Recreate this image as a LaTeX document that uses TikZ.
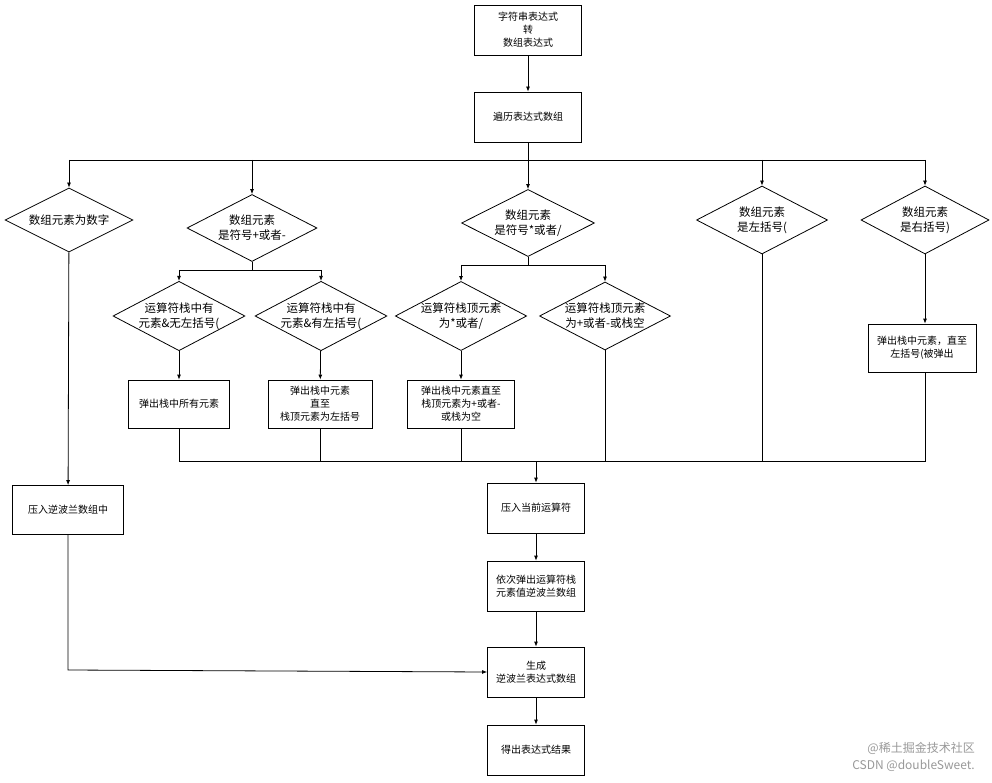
\documentclass[tikz,border=0pt]{standalone}
\usepackage{fontspec}
\setmainfont{Noto Sans CJK SC}
\usetikzlibrary{shapes.geometric,arrows.meta}
\begin{document}
\begin{tikzpicture}[x=1pt,y=-1pt,
  every node/.style={font=\fontsize{10}{13}\selectfont,align=center,inner sep=0pt},
  box/.style={draw,thick,rectangle},
  dia/.style={draw,thick,diamond,aspect=1.9,font=\fontsize{11.5}{15}\selectfont},
  ln/.style={thick},
  ar/.style={thick,-{Latex[length=5pt,width=4pt]}}]
\fill[white] (0,0) rectangle (992,783);
\useasboundingbox (0,0) rectangle (992,783);
\node[box,minimum width=107pt,minimum height=50pt] (top) at (528,30) {字符串表达式\\转\\数组表达式};
\node[box,minimum width=107pt,minimum height=50pt] (trav) at (528,117) {遍历表达式数组};
\node[dia,minimum width=128pt,minimum height=64pt] (d1) at (69,220) {数组元素为数字};
\node[dia,minimum width=130pt,minimum height=67pt] (d2) at (252,228) {数组元素\\是符号+或者-};
\node[dia,minimum width=133pt,minimum height=67pt] (d3) at (528,223) {数组元素\\是符号*或者/};
\node[dia,minimum width=131pt,minimum height=68pt] (d4) at (762,220) {数组元素\\是左括号(};
\node[dia,minimum width=128pt,minimum height=68pt] (d5) at (925,220) {数组元素\\是右括号)};
\node[dia,minimum width=130pt,minimum height=63pt] (d2a) at (179,316) {运算符栈中有\\元素\&无左括号(};
\node[dia,minimum width=130pt,minimum height=63pt] (d2b) at (321,316) {运算符栈中有\\元素\&有左括号(};
\node[dia,minimum width=129pt,minimum height=63pt] (d3a) at (461,316) {运算符栈顶元素\\为*或者/};
\node[dia,minimum width=131pt,minimum height=63pt] (d3b) at (605,316) {运算符栈顶元素\\为+或者-或栈空};
\node[box,minimum width=101pt,minimum height=48pt] (b1) at (179,404) {弹出栈中所有元素};
\node[box,minimum width=104pt,minimum height=48pt] (b2) at (320,404) {弹出栈中元素\\直至\\栈顶元素为左括号};
\node[box,minimum width=107pt,minimum height=48pt] (b3) at (461,404) {弹出栈中元素直至\\栈顶元素为+或者-\\或栈为空};
\node[box,minimum width=108pt,minimum height=48pt] (b5) at (922,348) {弹出栈中元素，直至\\左括号(被弹出};
\node[box,minimum width=111pt,minimum height=49pt] (L) at (68,510) {压入逆波兰数组中};
\node[box,minimum width=97pt,minimum height=50pt] (P) at (536,508) {压入当前运算符};
\node[box,minimum width=97pt,minimum height=50pt] (Q) at (536,586) {依次弹出运算符栈\\元素值逆波兰数组};
\node[box,minimum width=97pt,minimum height=50pt] (R) at (536,672) {生成\\逆波兰表达式数组};
\node[box,minimum width=97pt,minimum height=50pt] (S) at (536,750) {得出表达式结果};
\coordinate (bus) at (528,160);
\coordinate (j) at (536,461);
\draw[ar] (top) -- (trav);
\draw[ln] (trav) -- (bus);
\draw[ln] (69,160) -- (925,160);
\foreach \n in {d1,d2,d3,d4,d5} \draw[ar] (bus -| \n) -- (\n.north);
\draw[ln] (d2.south) -- (252,270);
\draw[ln] (179,270) -- (321,270);
\draw[ar] (179,270) -- (d2a.north);
\draw[ar] (321,270) -- (d2b.north);
\draw[ln] (d3.south) -- (528,265);
\draw[ln] (461,265) -- (605,265);
\draw[ar] (461,265) -- (d3a.north);
\draw[ar] (605,265) -- (d3b.north);
\draw[ar] (d2a) -- (b1);
\draw[ar] (d2b) -- (b2);
\draw[ar] (d3a) -- (b3);
\draw[ar] (d5.south) -- (d5.south |- b5.north);
\draw[ln] (b1.south) -- (b1.south |- j) -- (j);
\draw[ln] (b2.south) -- (b2.south |- j);
\draw[ln] (b3.south) -- (b3.south |- j);
\draw[ln] (d3b.south) -- (d3b.south |- j);
\draw[ln] (d4.south) -- (d4.south |- j);
\draw[ln] (d5.south |- b5.south) -- (d5.south |- j) -- (j);
\draw[ar] (j) -- (P);
\draw[ar] (P) -- (Q);
\draw[ar] (Q) -- (R);
\draw[ar] (R) -- (S);
\draw[ar] (d1) -- (L);
\draw[ar] (L.south) -- (68,670) -- (R.west);
\node[text=gray!80,font=\fontsize{12}{14}\selectfont,anchor=east] (w1) at (975,748) {@稀土掘金技术社区};
\node[text=gray!80,font=\fontsize{12}{14}\selectfont,anchor=east] (w2) at (975,766) {CSDN @doubleSweet.};
\end{tikzpicture}
\end{document}
